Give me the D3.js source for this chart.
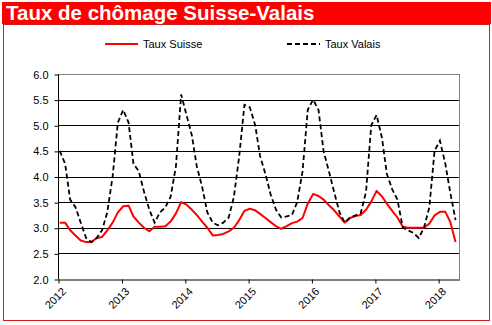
<!DOCTYPE html>
<html>
<head>
<meta charset="utf-8">
<script src="https://cdn.jsdelivr.net/npm/d3@7/dist/d3.min.js"></script>
<style>
  body { margin: 0; background: #fff; }
  text { font-family: "Liberation Sans", Arial, sans-serif; }
</style>
</head>
<body>
<div id="chart"></div>
<script>
// chart data (monthly, Jan 2012 .. Apr 2018)
const title = "Taux de chômage Suisse-Valais";
const seriesNames = ["Taux Suisse", "Taux Valais"];
const yTicks = [2.0, 2.5, 3.0, 3.5, 4.0, 4.5, 5.0, 5.5, 6.0];
const yearTicks = [2012, 2013, 2014, 2015, 2016, 2017, 2018];

const tauxSuisse = [
  3.1, 3.1, 2.95, 2.85, 2.75, 2.72, 2.72, 2.8, 2.82, 2.95, 3.1, 3.3,
  3.42, 3.43, 3.22, 3.1, 3.0, 2.93, 3.02, 3.02, 3.03, 3.12, 3.28, 3.5,
  3.45, 3.35, 3.25, 3.12, 3.0, 2.85, 2.86, 2.88, 2.93, 3.0, 3.15, 3.33,
  3.37, 3.34, 3.27, 3.19, 3.11, 3.03, 2.98, 3.03, 3.09, 3.12, 3.19, 3.47,
  3.66, 3.62, 3.55, 3.44, 3.34, 3.22, 3.1, 3.19, 3.23, 3.25, 3.35, 3.51,
  3.72, 3.61, 3.47, 3.33, 3.2, 3.02, 3.0, 3.0, 3.0, 3.0, 3.08, 3.24,
  3.31, 3.31, 3.12, 2.72
];

const tauxValais = [
  4.5, 4.25, 3.55, 3.4, 3.1, 2.8, 2.72, 2.8, 2.95, 3.3, 4.0, 5.05,
  5.3, 5.05, 4.25, 4.1, 3.7, 3.35, 3.1, 3.3, 3.4, 3.6, 4.2, 5.6,
  5.2, 4.8, 4.2, 3.8, 3.3, 3.1, 3.05, 3.1, 3.2, 3.6, 4.4, 5.4,
  5.35, 5.0, 4.4, 4.05, 3.65, 3.35, 3.2, 3.22, 3.25, 3.5, 4.1, 5.3,
  5.5, 5.3, 4.5, 4.1, 3.7, 3.3, 3.1, 3.2, 3.24, 3.28, 3.7, 5.0,
  5.2, 4.75, 4.05, 3.75, 3.55, 3.0, 2.95, 2.9, 2.8, 3.0, 3.4, 4.5,
  4.7, 4.25, 3.7, 3.15
];

const width = 492, height = 325;
const margin = { top: 74, right: 33, bottom: 46, left: 58 };
const red = "#ff0000";

const svg = d3.select("#chart").append("svg")
  .attr("width", width)
  .attr("height", height);

// title bar
svg.append("rect")
  .attr("x", 2).attr("y", 2)
  .attr("width", 489).attr("height", 22)
  .attr("fill", red);

svg.append("text")
  .attr("x", 6).attr("y", 20)
  .attr("fill", "white")
  .attr("font-size", "20.5px")
  .attr("font-weight", "bold")
  .text(title);

// frame round the chart
svg.append("rect")
  .attr("x", 3.5).attr("y", 24.5)
  .attr("width", 486).attr("height", 296)
  .attr("fill", "none")
  .attr("stroke", "#cc2020")
  .attr("stroke-width", 1);

const start = new Date(2012, 0, 1);
const end = new Date(2018, 4, 1);
const months = d3.timeMonth.range(start, end).slice(0, tauxSuisse.length);

const x = d3.scaleTime()
  .domain([start, end])
  .range([margin.left, width - margin.right]);

const y = d3.scaleLinear()
  .domain([2, 6])
  .range([height - margin.bottom, margin.top]);

const plot = svg.append("g");

// gridlines
plot.selectAll(".grid").data(yTicks.filter(d => d > 2)).enter().append("line")
  .attr("x1", margin.left).attr("x2", width - margin.right)
  .attr("y1", d => Math.round(y(d)) + 0.5).attr("y2", d => Math.round(y(d)) + 0.5)
  .attr("stroke", d => d === 6 ? "#808080" : "black")
  .attr("stroke-width", 1);

// right edge of plot area
plot.append("line")
  .attr("x1", width - margin.right + 0.5).attr("x2", width - margin.right + 0.5)
  .attr("y1", y(6)).attr("y2", y(2))
  .attr("stroke", "#808080");

// y axis
const yAxis = d3.axisLeft(y)
  .tickValues(yTicks)
  .tickFormat(d3.format(".1f"))
  .tickSize(4)
  .tickPadding(6);

const gy = svg.append("g")
  .attr("transform", `translate(${margin.left + 0.5},0.5)`)
  .call(yAxis);
gy.select(".domain").attr("stroke", "black").attr("d", `M0,${y(6)}V${y(2)}`);
gy.selectAll(".tick text")
  .attr("font-size", "11px")
  .attr("font-family", "Liberation Sans, Arial, sans-serif")
  .attr("fill", "black");

// x axis
const xAxis = d3.axisBottom(x)
  .tickValues(yearTicks.map(yr => new Date(yr, 0, 1)))
  .tickFormat(d3.timeFormat("%Y"))
  .tickSize(4)
  .tickSizeOuter(0);

const gx = svg.append("g")
  .attr("transform", `translate(0.5,${height - margin.bottom + 0.5})`)
  .call(xAxis);
gx.select(".domain").attr("stroke", "black");
gx.selectAll(".tick text")
  .attr("font-size", "11px")
  .attr("font-family", "Liberation Sans, Arial, sans-serif")
  .attr("fill", "black")
  .attr("text-anchor", "end")
  .attr("transform", "translate(5,10) rotate(-45)")
  .attr("y", 0)
  .attr("dy", "0.35em");

// lines, points sit ~10 days into each month
const xm = d => x(d3.timeDay.offset(d, 10));

const line = values => d3.line()
  .x((d, i) => xm(months[i]))
  .y(d => y(d))(values);

svg.append("path")
  .attr("d", line(tauxSuisse))
  .attr("fill", "none")
  .attr("stroke", red)
  .attr("stroke-width", 2)
  .attr("stroke-linejoin", "round");

svg.append("path")
  .attr("d", line(tauxValais))
  .attr("fill", "none")
  .attr("stroke", "black")
  .attr("stroke-width", 1.8)
  .attr("stroke-dasharray", "5,3");

// legend
const legend = [
  { name: seriesNames[0], color: red, dash: null, x: 105 },
  { name: seriesNames[1], color: "black", dash: "5,3", x: 287 }
];

legend.forEach(l => {
  svg.append("line")
    .attr("x1", l.x).attr("x2", l.x + 33)
    .attr("y1", 44).attr("y2", 44)
    .attr("stroke", l.color)
    .attr("stroke-width", 2)
    .attr("stroke-dasharray", l.dash);
  svg.append("text")
    .attr("x", l.x + 38).attr("y", 48)
    .attr("font-size", "11px")
    .attr("fill", "black")
    .text(l.name);
});
</script>
</body>
</html>
